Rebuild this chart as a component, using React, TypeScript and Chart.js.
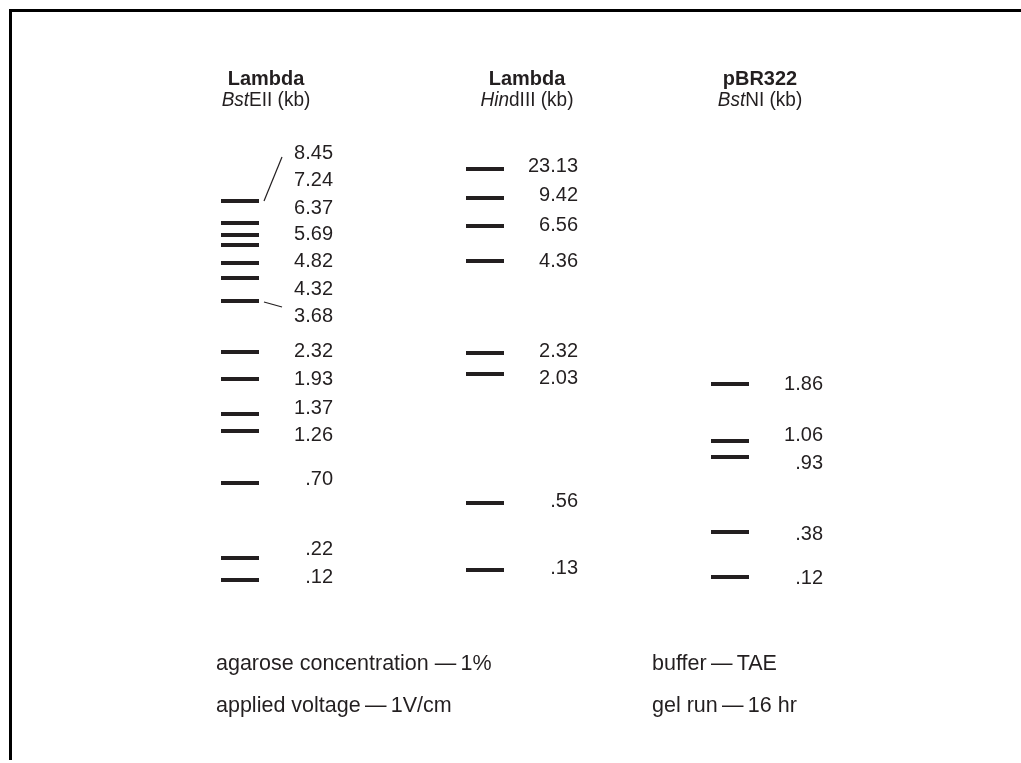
import { useEffect, useRef } from "react";
import { Chart, registerables } from "chart.js";
Chart.register(...registerables);

// Lanes
const laneNames = ["Lambda", "Lambda", "pBR322"];
const laneEnzymeItalic = ["Bst", "Hin", "Bst"];
const laneEnzymeRest = ["EII (kb)", "dIII (kb)", "NI (kb)"];

// Migration distance of each band (mm from the wells)
const bstEIIBands = [10.2, 14.6, 17.0, 19.0, 22.6, 25.6, 30.2, 40.4, 45.8, 52.8, 56.2, 66.6, 81.6, 86.0];
const bstEIISizes = ["8.45", "7.24", "6.37", "5.69", "4.82", "4.32", "3.68", "2.32", "1.93", "1.37", "1.26", ".70", ".22", ".12"];
const bstEIILabelPos = [0.4, 5.8, 11.4, 16.6, 22.0, 27.6, 33.0, 40.0, 45.6, 51.4, 56.8, 65.6, 79.6, 85.2];

const hindIIIBands = [3.8, 9.6, 15.2, 22.2, 40.6, 44.8, 70.6, 84.0];
const hindIIISizes = ["23.13", "9.42", "6.56", "4.36", "2.32", "2.03", ".56", ".13"];
const hindIIILabelPos = [3.0, 8.8, 14.8, 22.0, 40.0, 45.4, 70.0, 83.4];

const bstNIBands = [46.8, 58.2, 61.4, 76.4, 85.4];
const bstNISizes = ["1.86", "1.06", ".93", ".38", ".12"];
const bstNILabelPos = [46.6, 56.8, 62.4, 76.6, 85.4];

// Leader lines (lane, band index) in the compressed BstEII region
const leaderLane = [0, 0];
const leaderBand = [0, 6];

const footLeft = ["agarose concentration \u2014\u20091%", "applied voltage\u2009\u2014\u20091V/cm"];
const footRight = ["buffer\u2009\u2014\u2009TAE", "gel run\u2009\u2014\u200916 hr"];

const lanesBands = [bstEIIBands, hindIIIBands, bstNIBands];
const lanesSizes = [bstEIISizes, hindIIISizes, bstNISizes];
const lanesLabelPos = [bstEIILabelPos, hindIIILabelPos, bstNILabelPos];

const INK = "#231f20";
const FONT = "'Liberation Sans', Arial, Helvetica, sans-serif";

export default function App() {
  const ref = useRef<HTMLCanvasElement | null>(null);
  useEffect(() => {
    document.body.style.margin = "0";
    const canvas = ref.current!;
    const datasets = lanesBands.map((bands, lane) => ({
      label: laneNames[lane],
      data: bands.map((d) => ({ x: lane, y: d })),
      pointStyle: "line" as const,
      pointRadius: 19,
      pointHoverRadius: 19,
      borderWidth: 3.8,
      pointBorderWidth: 3.8,
      borderColor: INK,
      backgroundColor: INK,
      showLine: false,
    }));

    const overlay = {
      id: "gelText",
      beforeDraw(chart: any) {
        const ctx = chart.ctx as CanvasRenderingContext2D;
        ctx.save();
        ctx.fillStyle = "#ffffff";
        ctx.fillRect(0, 0, chart.width, chart.height);
        ctx.fillStyle = "#000";
        ctx.fillRect(9, 9, chart.width - 9, 3);
        ctx.fillRect(9, 9, 3, 751);
        ctx.restore();
      },
      afterDatasetsDraw(chart: any) {
        const ctx = chart.ctx as CanvasRenderingContext2D;
        const xs = chart.scales.x;
        const ys = chart.scales.y;
        ctx.save();
        ctx.fillStyle = INK;
        ctx.strokeStyle = INK;
        const headOff = [26, 42, 30];
        const sx = 0.95;
        laneNames.forEach((name, lane) => {
          const cx = xs.getPixelForValue(lane) + headOff[lane];
          ctx.save();
          ctx.translate(cx, 0);
          ctx.scale(sx, 1);
          ctx.textBaseline = "alphabetic";
          ctx.textAlign = "center";
          ctx.font = `bold 21px ${FONT}`;
          ctx.fillText(name, 0, 85);
          ctx.textAlign = "left";
          const itF = `italic 20px ${FONT}`;
          const reF = `20px ${FONT}`;
          ctx.font = itF;
          const w1 = ctx.measureText(laneEnzymeItalic[lane]).width;
          ctx.font = reF;
          const w2 = ctx.measureText(laneEnzymeRest[lane]).width;
          const x0 = -(w1 + w2) / 2;
          ctx.font = itF;
          ctx.fillText(laneEnzymeItalic[lane], x0, 106);
          ctx.font = reF;
          ctx.fillText(laneEnzymeRest[lane], x0 + w1, 106);
          ctx.restore();
        });
        ctx.font = `20px ${FONT}`;
        ctx.textAlign = "right";
        ctx.textBaseline = "middle";
        lanesSizes.forEach((sizes, lane) => {
          const rx = xs.getPixelForValue(lane) + 93;
          sizes.forEach((s, i) => {
            ctx.fillText(s, rx, ys.getPixelForValue(lanesLabelPos[lane][i]) + 1);
          });
        });
        // leader lines
        ctx.lineWidth = 1.2;
        const leadDy = [5, -8];
        leaderLane.forEach((lane, k) => {
          const b = leaderBand[k];
          const cx = xs.getPixelForValue(lane);
          const by = ys.getPixelForValue(lanesBands[lane][b]);
          const ly = ys.getPixelForValue(lanesLabelPos[lane][b]);
          ctx.beginPath();
          ctx.moveTo(cx + 24, by + (k === 0 ? 0 : 1));
          ctx.lineTo(cx + 42, ly + leadDy[k]);
          ctx.stroke();
        });
        // footer
        ctx.textAlign = "left";
        ctx.textBaseline = "middle";
        ctx.font = `21.5px ${FONT}`;
        const lx = xs.getPixelForValue(0) - 24;
        const rx = xs.getPixelForValue(2) - 78;
        footLeft.forEach((t, i) => ctx.fillText(t, lx, 664 + i * 42));
        footRight.forEach((t, i) => ctx.fillText(t, rx, 664 + i * 42));
        ctx.restore();
      },
    };

    const chart = new Chart(canvas, {
      type: "scatter",
      data: { datasets },
      options: {
        animation: false,
        responsive: false,
        devicePixelRatio: 1,
        layout: { padding: 0, autoPadding: false },
        plugins: { legend: { display: false }, tooltip: { enabled: false } },
        events: [],
        scales: {
          x: { type: "linear", display: false, min: -240 / 245, max: -240 / 245 + 1021 / 245 },
          y: { type: "linear", display: false, reverse: true, min: -30, max: -30 + 763 / 5 },
        },
      },
      plugins: [overlay],
    });
    return () => chart.destroy();
  }, []);
  return <canvas ref={ref} width={1021} height={763} style={{ display: "block", width: 1021, height: 763 }} />;
}
